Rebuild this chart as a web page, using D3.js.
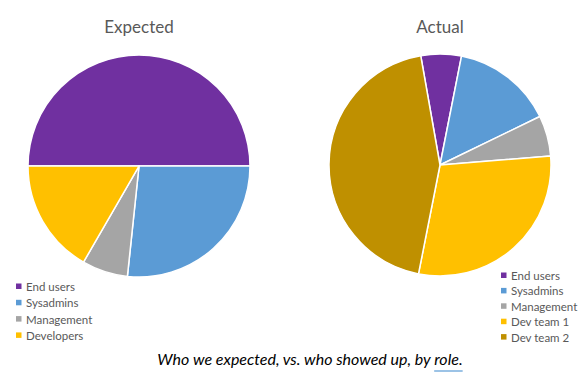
<!DOCTYPE html>
<html>
<head>
<meta charset="utf-8">
<script src="https://cdn.jsdelivr.net/npm/d3@7"></script>
<style>
  body { margin: 0; background: #fff; }
  svg { display: block; font-family: Lato, 'Open Sans', sans-serif; }
  .title { fill: #595959; font-size: 17px; text-anchor: middle; }
  .legend-text { fill: #595959; font-size: 11.5px; }
  .caption { fill: #000; font-size: 16px; font-style: italic; text-anchor: middle; }
</style>
</head>
<body>
<svg width="587" height="378"></svg>
<script>
// expected vs actual, by role
const expectedRoles = ['End users', 'Sysadmins', 'Management', 'Developers'];
const expectedValues = [15, 8, 2, 5];
const expectedColors = ['#7030A0', '#5B9BD5', '#A5A5A5', '#FFC000'];

const actualRoles = ['End users', 'Sysadmins', 'Management', 'Dev team 1', 'Dev team 2'];
const actualValues = [2, 5, 2, 10, 15];
const actualColors = ['#7030A0', '#5B9BD5', '#A5A5A5', '#FFC000', '#BF9000'];

const svg = d3.select('svg');
const radius = 111;

function drawPie(cfg) {
  const g = svg.append('g').attr('transform', `translate(${cfg.cx},${cfg.cy})`);

  const pie = d3.pie()
    .sort(null)
    .value(d => d.value)
    .startAngle(cfg.start)
    .endAngle(cfg.start + 2 * Math.PI);

  const arc = d3.arc().innerRadius(0).outerRadius(radius);

  const data = cfg.labels.map((l, i) => ({ label: l, value: cfg.values[i], color: cfg.colors[i] }));

  g.selectAll('path')
    .data(pie(data))
    .join('path')
    .attr('d', arc)
    .attr('fill', d => d.data.color)
    .attr('stroke', '#fff')
    .attr('stroke-width', 1.5)
    .attr('stroke-linejoin', 'round');

  svg.append('text')
    .attr('class', 'title')
    .attr('x', cfg.cx)
    .attr('y', 33)
    .text(cfg.title);

  const leg = svg.append('g').attr('transform', `translate(${cfg.lx},${cfg.ly})`);
  const rows = leg.selectAll('g')
    .data(data)
    .join('g')
    .attr('transform', (d, i) => `translate(0,${i * cfg.step})`);
  rows.append('rect')
    .attr('x', 0).attr('y', -3.5)
    .attr('width', 5.5).attr('height', 5.5)
    .attr('fill', d => d.color);
  rows.append('text')
    .attr('class', 'legend-text')
    .attr('x', 10)
    .attr('y', 4)
    .text(d => d.label);
}

drawPie({
  title: 'Expected', cx: 139, cy: 166, start: -Math.PI / 2,
  labels: expectedRoles, values: expectedValues, colors: expectedColors,
  lx: 16, ly: 287, step: 16.3
});

drawPie({
  title: 'Actual', cx: 440, cy: 165, start: -10 * Math.PI / 180,
  labels: actualRoles, values: actualValues, colors: actualColors,
  lx: 501, ly: 276, step: 15.4
});

// caption with the underlined last word
const cap = svg.append('text')
  .attr('class', 'caption')
  .attr('x', 310)
  .attr('y', 365);
cap.append('tspan').text('Who we expected, vs. who showed up, by ');
cap.append('tspan').attr('class', 'role').text('role.');

const roleBox = cap.select('.role').node().getBBox();
svg.append('line')
  .attr('x1', roleBox.x)
  .attr('x2', roleBox.x + roleBox.width)
  .attr('y1', 371)
  .attr('y2', 371)
  .attr('stroke', '#5B9BD5')
  .attr('stroke-width', 1.2);
</script>
</body>
</html>
